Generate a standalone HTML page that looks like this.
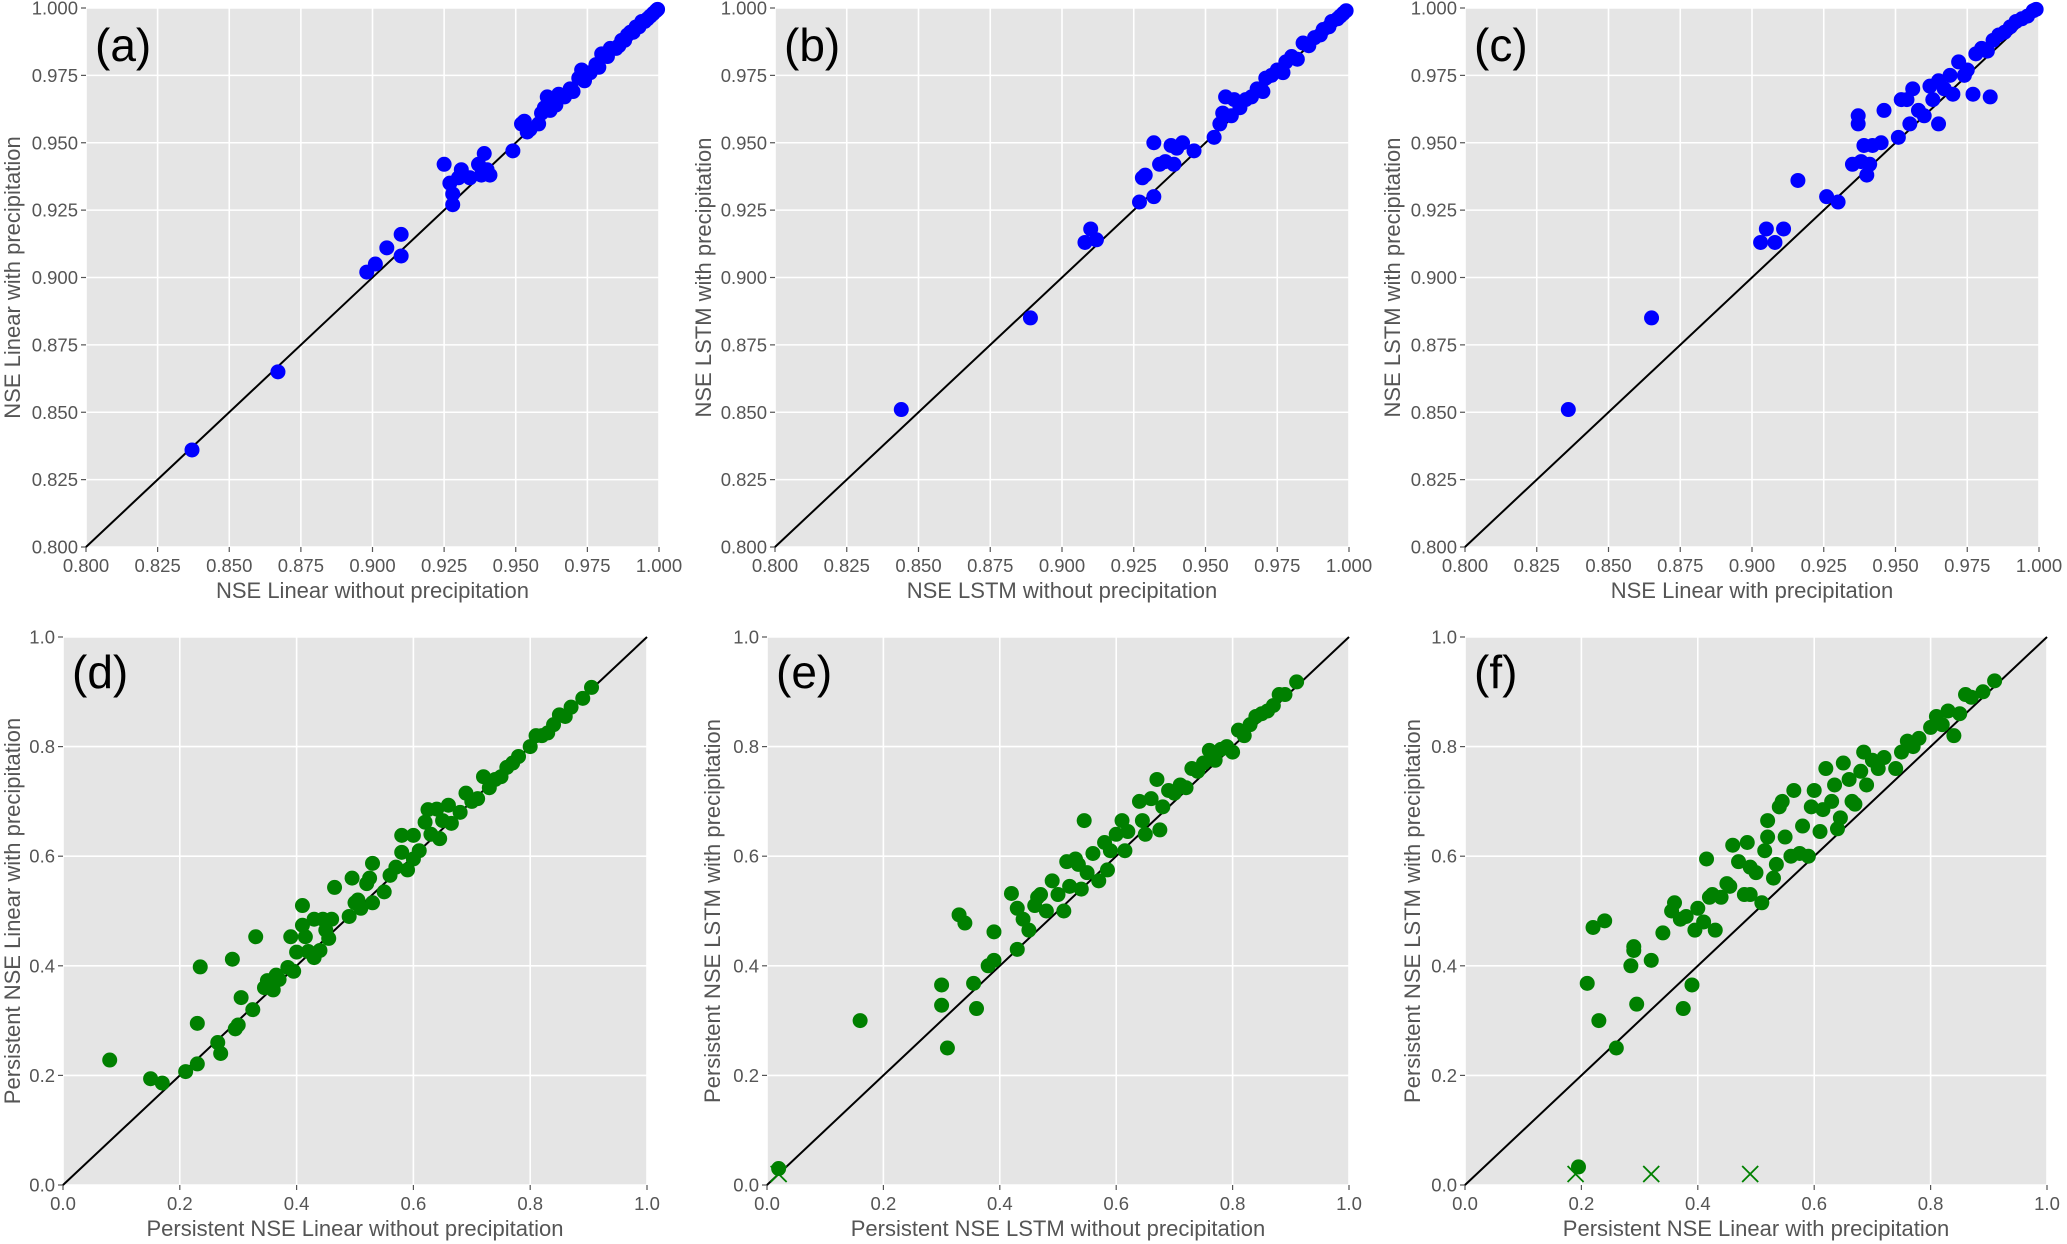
<!DOCTYPE html>
<html><head><meta charset="utf-8">
<style>
html,body{margin:0;padding:0;background:#fff;}
svg{display:block;font-family:"Liberation Sans","DejaVu Sans",sans-serif;}
</style></head>
<body>
<svg id="fig" width="2067" height="1244" viewBox="0 0 2067 1244" xmlns="http://www.w3.org/2000/svg"></svg>
<script>
// ---- Panel (a) data ----
const aX = [0.837,0.867,0.898,0.901,0.905,0.910,0.910,0.925,0.927,0.928,0.928,0.930,0.931,0.934,0.937,0.938,0.939,0.940,0.941,0.949,0.952,0.953,0.954,0.955,0.958,0.959,0.960,0.961,0.962,0.964,0.965,0.967,0.969,0.970,0.972,0.973,0.974,0.976,0.978,0.979,0.980,0.982,0.983,0.985,0.986,0.987,0.988,0.989,0.990,0.991,0.992,0.993,0.994,0.995,0.996,0.997,0.998,0.999,0.9995];
const aY = [0.836,0.865,0.902,0.905,0.911,0.916,0.908,0.942,0.935,0.931,0.927,0.937,0.940,0.937,0.942,0.938,0.946,0.940,0.938,0.947,0.957,0.958,0.954,0.955,0.957,0.961,0.963,0.967,0.962,0.964,0.968,0.967,0.970,0.969,0.974,0.977,0.973,0.976,0.979,0.978,0.983,0.982,0.985,0.985,0.986,0.988,0.988,0.990,0.991,0.991,0.993,0.993,0.995,0.995,0.996,0.997,0.998,0.999,0.9995];
// ---- Panel (b) data ----
const bX = [0.844,0.889,0.908,0.910,0.912,0.927,0.928,0.929,0.932,0.932,0.934,0.936,0.938,0.939,0.940,0.942,0.946,0.953,0.955,0.956,0.957,0.959,0.960,0.962,0.964,0.966,0.968,0.970,0.971,0.973,0.975,0.977,0.978,0.980,0.982,0.984,0.986,0.988,0.990,0.991,0.993,0.994,0.996,0.997,0.998,0.999];
const bY = [0.851,0.885,0.913,0.918,0.914,0.928,0.937,0.938,0.930,0.950,0.942,0.943,0.949,0.942,0.948,0.950,0.947,0.952,0.957,0.961,0.967,0.960,0.966,0.963,0.966,0.967,0.970,0.969,0.974,0.975,0.977,0.976,0.980,0.982,0.981,0.987,0.986,0.989,0.990,0.992,0.993,0.995,0.996,0.997,0.998,0.999];
// ---- Panel (c) data ----
const cX = [0.836,0.865,0.903,0.905,0.908,0.911,0.916,0.926,0.930,0.935,0.937,0.937,0.938,0.939,0.940,0.941,0.942,0.945,0.946,0.951,0.952,0.954,0.955,0.956,0.958,0.960,0.962,0.963,0.965,0.965,0.967,0.969,0.970,0.972,0.974,0.975,0.977,0.978,0.980,0.982,0.983,0.984,0.986,0.988,0.990,0.992,0.994,0.996,0.998,0.999];
const cY = [0.851,0.885,0.913,0.918,0.913,0.918,0.936,0.930,0.928,0.942,0.957,0.960,0.943,0.949,0.938,0.942,0.949,0.950,0.962,0.952,0.966,0.966,0.957,0.970,0.962,0.960,0.971,0.966,0.957,0.973,0.970,0.975,0.968,0.980,0.975,0.977,0.968,0.983,0.985,0.984,0.967,0.988,0.990,0.991,0.993,0.995,0.996,0.997,0.999,0.9995];
// ---- Panel (d) data ----
const dX = [0.08,0.15,0.17,0.21,0.23,0.23,0.235,0.265,0.27,0.29,0.295,0.30,0.305,0.325,0.33,0.345,0.35,0.36,0.365,0.37,0.385,0.39,0.395,0.40,0.41,0.41,0.415,0.42,0.43,0.43,0.44,0.445,0.45,0.455,0.46,0.465,0.49,0.495,0.50,0.505,0.51,0.52,0.525,0.53,0.53,0.55,0.56,0.57,0.58,0.58,0.59,0.60,0.60,0.61,0.62,0.625,0.63,0.64,0.645,0.65,0.66,0.665,0.68,0.69,0.70,0.71,0.72,0.73,0.74,0.75,0.76,0.77,0.78,0.80,0.81,0.82,0.83,0.84,0.85,0.86,0.87,0.89,0.905];
const dY = [0.228,0.194,0.186,0.207,0.221,0.295,0.398,0.26,0.24,0.412,0.285,0.292,0.342,0.32,0.453,0.36,0.373,0.356,0.383,0.375,0.397,0.453,0.39,0.425,0.51,0.474,0.453,0.426,0.415,0.485,0.428,0.485,0.465,0.45,0.485,0.543,0.49,0.56,0.515,0.52,0.505,0.55,0.56,0.515,0.587,0.535,0.565,0.58,0.607,0.638,0.575,0.595,0.638,0.61,0.662,0.685,0.64,0.686,0.632,0.665,0.693,0.66,0.68,0.715,0.70,0.705,0.745,0.725,0.74,0.745,0.762,0.77,0.782,0.80,0.82,0.82,0.825,0.84,0.858,0.855,0.872,0.888,0.908];
// ---- Panel (e) data ----
const eX = [0.02,0.16,0.30,0.30,0.31,0.33,0.34,0.355,0.36,0.38,0.39,0.39,0.42,0.43,0.43,0.44,0.45,0.46,0.465,0.47,0.48,0.49,0.50,0.51,0.515,0.52,0.53,0.535,0.54,0.545,0.55,0.56,0.57,0.58,0.585,0.59,0.60,0.61,0.615,0.62,0.64,0.645,0.65,0.66,0.67,0.675,0.68,0.69,0.70,0.71,0.72,0.73,0.74,0.75,0.76,0.77,0.78,0.79,0.80,0.81,0.82,0.83,0.84,0.85,0.86,0.87,0.88,0.89,0.91];
const eY = [0.03,0.30,0.365,0.328,0.25,0.493,0.478,0.368,0.322,0.40,0.462,0.41,0.532,0.505,0.43,0.485,0.465,0.51,0.525,0.53,0.50,0.555,0.53,0.50,0.59,0.545,0.595,0.585,0.54,0.665,0.57,0.605,0.555,0.625,0.575,0.61,0.64,0.665,0.61,0.645,0.70,0.665,0.64,0.705,0.74,0.648,0.69,0.72,0.715,0.73,0.725,0.76,0.755,0.77,0.793,0.775,0.795,0.80,0.79,0.83,0.82,0.84,0.855,0.86,0.865,0.875,0.895,0.895,0.918];
const eXmX = [0.02];
const eXmY = [0.02];
// ---- Panel (f) data ----
const fX = [0.195,0.21,0.22,0.23,0.24,0.26,0.285,0.29,0.29,0.295,0.32,0.34,0.355,0.36,0.37,0.375,0.38,0.39,0.395,0.40,0.41,0.415,0.42,0.425,0.43,0.44,0.45,0.455,0.46,0.47,0.48,0.485,0.49,0.49,0.50,0.51,0.515,0.52,0.52,0.53,0.535,0.54,0.545,0.55,0.56,0.565,0.575,0.58,0.59,0.595,0.60,0.61,0.615,0.62,0.63,0.635,0.64,0.645,0.65,0.66,0.665,0.67,0.68,0.685,0.69,0.70,0.71,0.72,0.74,0.75,0.76,0.77,0.78,0.80,0.81,0.82,0.83,0.84,0.85,0.86,0.87,0.89,0.91];
const fY = [0.033,0.368,0.47,0.30,0.482,0.25,0.40,0.435,0.428,0.33,0.41,0.46,0.50,0.515,0.485,0.322,0.49,0.365,0.465,0.505,0.48,0.595,0.525,0.53,0.465,0.525,0.55,0.545,0.62,0.59,0.53,0.625,0.58,0.53,0.57,0.515,0.61,0.665,0.635,0.56,0.585,0.69,0.70,0.635,0.60,0.72,0.605,0.655,0.60,0.69,0.72,0.645,0.685,0.76,0.70,0.73,0.65,0.67,0.77,0.74,0.70,0.695,0.755,0.79,0.73,0.775,0.76,0.78,0.76,0.79,0.81,0.80,0.815,0.835,0.855,0.84,0.865,0.82,0.86,0.895,0.89,0.90,0.92];
const fXmX = [0.19,0.32,0.49];
const fXmY = [0.02,0.02,0.02];

const ticksTop = ["0.800","0.825","0.850","0.875","0.900","0.925","0.950","0.975","1.000"];
const ticksBot = ["0.0","0.2","0.4","0.6","0.8","1.0"];

const NS = "http://www.w3.org/2000/svg";
const svg = document.getElementById("fig");
function mk(tag, attrs, parent) {
  const e = document.createElementNS(NS, tag);
  for (const k in attrs) e.setAttribute(k, attrs[k]);
  (parent || svg).appendChild(e);
  return e;
}

function panel(p) {
  const g = mk("g", {});
  
  
  const W = p.x1 - p.x0, H = p.y1 - p.y0;
  const sx = v => p.x0 + (v - p.min) / (p.max - p.min) * W;
  const sy = v => p.y1 - (v - p.min) / (p.max - p.min) * H;
  const bg = mk("rect", {x:p.x0, y:p.y0, width:W, height:H, fill:"#e5e5e5"}, g);
  
  
  p.ticks.forEach(t => {
    const v = parseFloat(t);
    const gx = mk("line", {x1:sx(v), x2:sx(v), y1:p.y0, y2:p.y1, stroke:"#fff", "stroke-width":1.6}, g);
    
    
    const gy = mk("line", {x1:p.x0, x2:p.x1, y1:sy(v), y2:sy(v), stroke:"#fff", "stroke-width":1.6}, g);
    
    
    mk("line", {x1:sx(v), x2:sx(v), y1:p.y1, y2:p.y1+5, stroke:"#555", "stroke-width":1.2}, g);
    mk("line", {x1:p.x0-5, x2:p.x0, y1:sy(v), y2:sy(v), stroke:"#555", "stroke-width":1.2}, g);
    const tx = mk("text", {x:sx(v), y:p.y1+25, "text-anchor":"middle", "font-size":18.5, fill:"#555"}, g);
    tx.textContent = t;
    
    
    const ty = mk("text", {x:p.x0-8, y:sy(v)+6.5, "text-anchor":"end", "font-size":18.5, fill:"#555"}, g);
    ty.textContent = t;
    
    
  });
  const diag = mk("line", {x1:sx(p.min), y1:sy(p.min), x2:sx(p.max), y2:sy(p.max), stroke:"#000", "stroke-width":2}, g);
  
  
  p.xs.forEach((xv, i) => {
    const c = mk("circle", {cx:sx(xv), cy:sy(p.ys[i]), r:7.5, fill:p.color}, g);
    
    
  });
  (p.mx || []).forEach((xv, i) => {
    const cx = sx(xv), cy = sy(p.my[i]), s = 8;
    const m = mk("path", {d:`M${cx-s},${cy-s}L${cx+s},${cy+s}M${cx-s},${cy+s}L${cx+s},${cy-s}`, stroke:p.color, "stroke-width":1.8, fill:"none"}, g);
    
    
  });
  const xl = mk("text", {x:(p.x0+p.x1)/2, y:p.y1+51, "text-anchor":"middle", "font-size":22, fill:"#555"}, g);
  xl.textContent = p.xlabel;
  
  
  const yc = (p.y0+p.y1)/2;
  const yl = mk("text", {x:p.ylx, y:yc, "text-anchor":"middle", "font-size":22, fill:"#555", transform:`rotate(-90 ${p.ylx} ${yc})`}, g);
  yl.textContent = p.ylabel;
  
  
  const lt = mk("text", {x:p.x0+9, y:p.y0+p.lby, "font-size":46, fill:"#000"}, g);
  lt.textContent = "(" + p.id + ")";
  
  
}

panel({id:"a", x0:86, x1:659, y0:8, y1:547, min:0.8, max:1.0, ticks:ticksTop, xs:aX, ys:aY, color:"#0000ff", xlabel:"NSE Linear without precipitation", ylabel:"NSE Linear with precipitation", ylx:20, lby:53});
panel({id:"b", x0:775, x1:1349, y0:8, y1:547, min:0.8, max:1.0, ticks:ticksTop, xs:bX, ys:bY, color:"#0000ff", xlabel:"NSE LSTM without precipitation", ylabel:"NSE LSTM with precipitation", ylx:711, lby:53});
panel({id:"c", x0:1465, x1:2039, y0:8, y1:547, min:0.8, max:1.0, ticks:ticksTop, xs:cX, ys:cY, color:"#0000ff", xlabel:"NSE Linear with precipitation", ylabel:"NSE LSTM with precipitation", ylx:1400, lby:53});
panel({id:"d", x0:63, x1:647, y0:637, y1:1185, min:0, max:1, ticks:ticksBot, xs:dX, ys:dY, color:"#008000", xlabel:"Persistent NSE Linear without precipitation", ylabel:"Persistent NSE Linear with precipitation", ylx:20, lby:51});
panel({id:"e", x0:767, x1:1349, y0:637, y1:1185, min:0, max:1, ticks:ticksBot, xs:eX, ys:eY, mx:eXmX, my:eXmY, color:"#008000", xlabel:"Persistent NSE LSTM without precipitation", ylabel:"Persistent NSE LSTM with precipitation", ylx:720, lby:51});
panel({id:"f", x0:1465, x1:2047, y0:637, y1:1185, min:0, max:1, ticks:ticksBot, xs:fX, ys:fY, mx:fXmX, my:fXmY, color:"#008000", xlabel:"Persistent NSE Linear with precipitation", ylabel:"Persistent NSE LSTM with precipitation", ylx:1420, lby:51});
</script>
</body></html>
